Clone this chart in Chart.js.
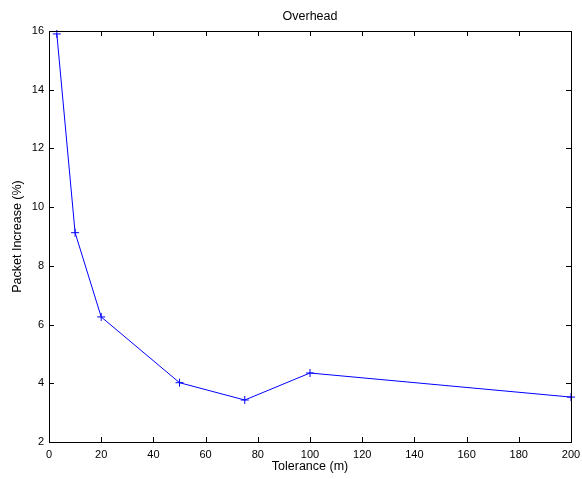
<!DOCTYPE html>
<html>
<head>
<meta charset="utf-8">
<script src="https://cdn.jsdelivr.net/npm/chart.js@4"></script>
<style>
  html, body { margin: 0; padding: 0; background: #fff; }
  #wrap { width: 582px; height: 479px; }
</style>
</head>
<body>
<div id="wrap"><canvas id="chart" width="582" height="479"></canvas></div>
<script>
// values
var tolerance = [3, 10, 20, 50, 75, 100, 200];
var increase = [15.9, 9.13, 6.26, 4.02, 3.43, 4.35, 3.53];
var xTicks = [0, 20, 40, 60, 80, 100, 120, 140, 160, 180, 200];
var yTicks = [2, 4, 6, 8, 10, 12, 14, 16];

var FONT = "'Liberation Sans', Arial, Helvetica, sans-serif";

var points = tolerance.map(function (t, i) {
  return { x: t, y: increase[i] };
});

// matlab style box with inward ticks on all four sides
var boxPlugin = {
  id: 'matlabBox',
  afterDraw: function (chart) {
    var ctx = chart.ctx;
    var a = chart.chartArea;
    var xs = chart.scales.x;
    var ys = chart.scales.y;
    var len = 5;
    ctx.save();
    ctx.strokeStyle = '#000';
    ctx.lineWidth = 1;
    ctx.beginPath();
    xTicks.forEach(function (v) {
      var px = Math.round(xs.getPixelForValue(v)) + 0.5;
      ctx.moveTo(px, a.bottom);
      ctx.lineTo(px, a.bottom - len);
      ctx.moveTo(px, a.top);
      ctx.lineTo(px, a.top + len);
    });
    yTicks.forEach(function (v) {
      var py = Math.round(ys.getPixelForValue(v)) + 0.5;
      ctx.moveTo(a.left, py);
      ctx.lineTo(a.left + len, py);
      ctx.moveTo(a.right, py);
      ctx.lineTo(a.right - len, py);
    });
    ctx.stroke();
    ctx.strokeRect(Math.round(a.left) + 0.5, Math.round(a.top) + 0.5,
      Math.round(a.right - a.left), Math.round(a.bottom - a.top));
    ctx.restore();
  }
};

new Chart(document.getElementById('chart'), {
  type: 'line',
  data: {
    datasets: [{
      data: points,
      borderColor: '#0000ff',
      backgroundColor: '#0000ff',
      borderWidth: 1,
      pointStyle: 'cross',
      pointRadius: 4,
      pointBorderWidth: 1,
      pointBorderColor: '#0000ff',
      tension: 0,
      fill: false,
      clip: false
    }]
  },
  options: {
    responsive: false,
    animation: false,
    layout: { padding: { left: 0, right: 11, top: 0, bottom: 0 } },
    plugins: {
      legend: { display: false },
      tooltip: { enabled: false },
      title: {
        display: true,
        text: 'Overhead',
        fullSize: false,
        color: '#000',
        font: { family: FONT, size: 12.5, weight: 'normal', lineHeight: 1.2 },
        padding: { top: 9.5, bottom: 6.5 }
      }
    },
    scales: {
      x: {
        type: 'linear',
        min: 0,
        max: 200,
        afterBuildTicks: function (s) { s.ticks = xTicks.map(function (v) { return { value: v }; }); },
        afterFit: function (s) { s.height = 37; s.paddingLeft = 0; s.paddingRight = 0; },
        grid: { display: false, drawTicks: false },
        border: { display: false },
        ticks: { color: '#000', padding: 6, maxRotation: 0, font: { family: FONT, size: 11 } },
        title: {
          display: true,
          text: 'Tolerance (m)',
          color: '#000',
          font: { family: FONT, size: 12.5, lineHeight: 1.2 },
          padding: { top: 0, bottom: 5 }
        }
      },
      y: {
        type: 'linear',
        min: 2,
        max: 16,
        afterBuildTicks: function (s) { s.ticks = yTicks.map(function (v) { return { value: v }; }); },
        afterFit: function (s) { s.width = 49; s.paddingTop = 0; s.paddingBottom = 0; },
        grid: { display: false, drawTicks: false },
        border: { display: false },
        ticks: { color: '#000', padding: 5, font: { family: FONT, size: 11 } },
        title: {
          display: true,
          text: 'Packet Increase (%)',
          color: '#000',
          font: { family: FONT, size: 12.5, lineHeight: 1.2 },
          padding: { top: 10.5, bottom: 0 }
        }
      }
    }
  },
  plugins: [boxPlugin]
});
</script>
</body>
</html>
